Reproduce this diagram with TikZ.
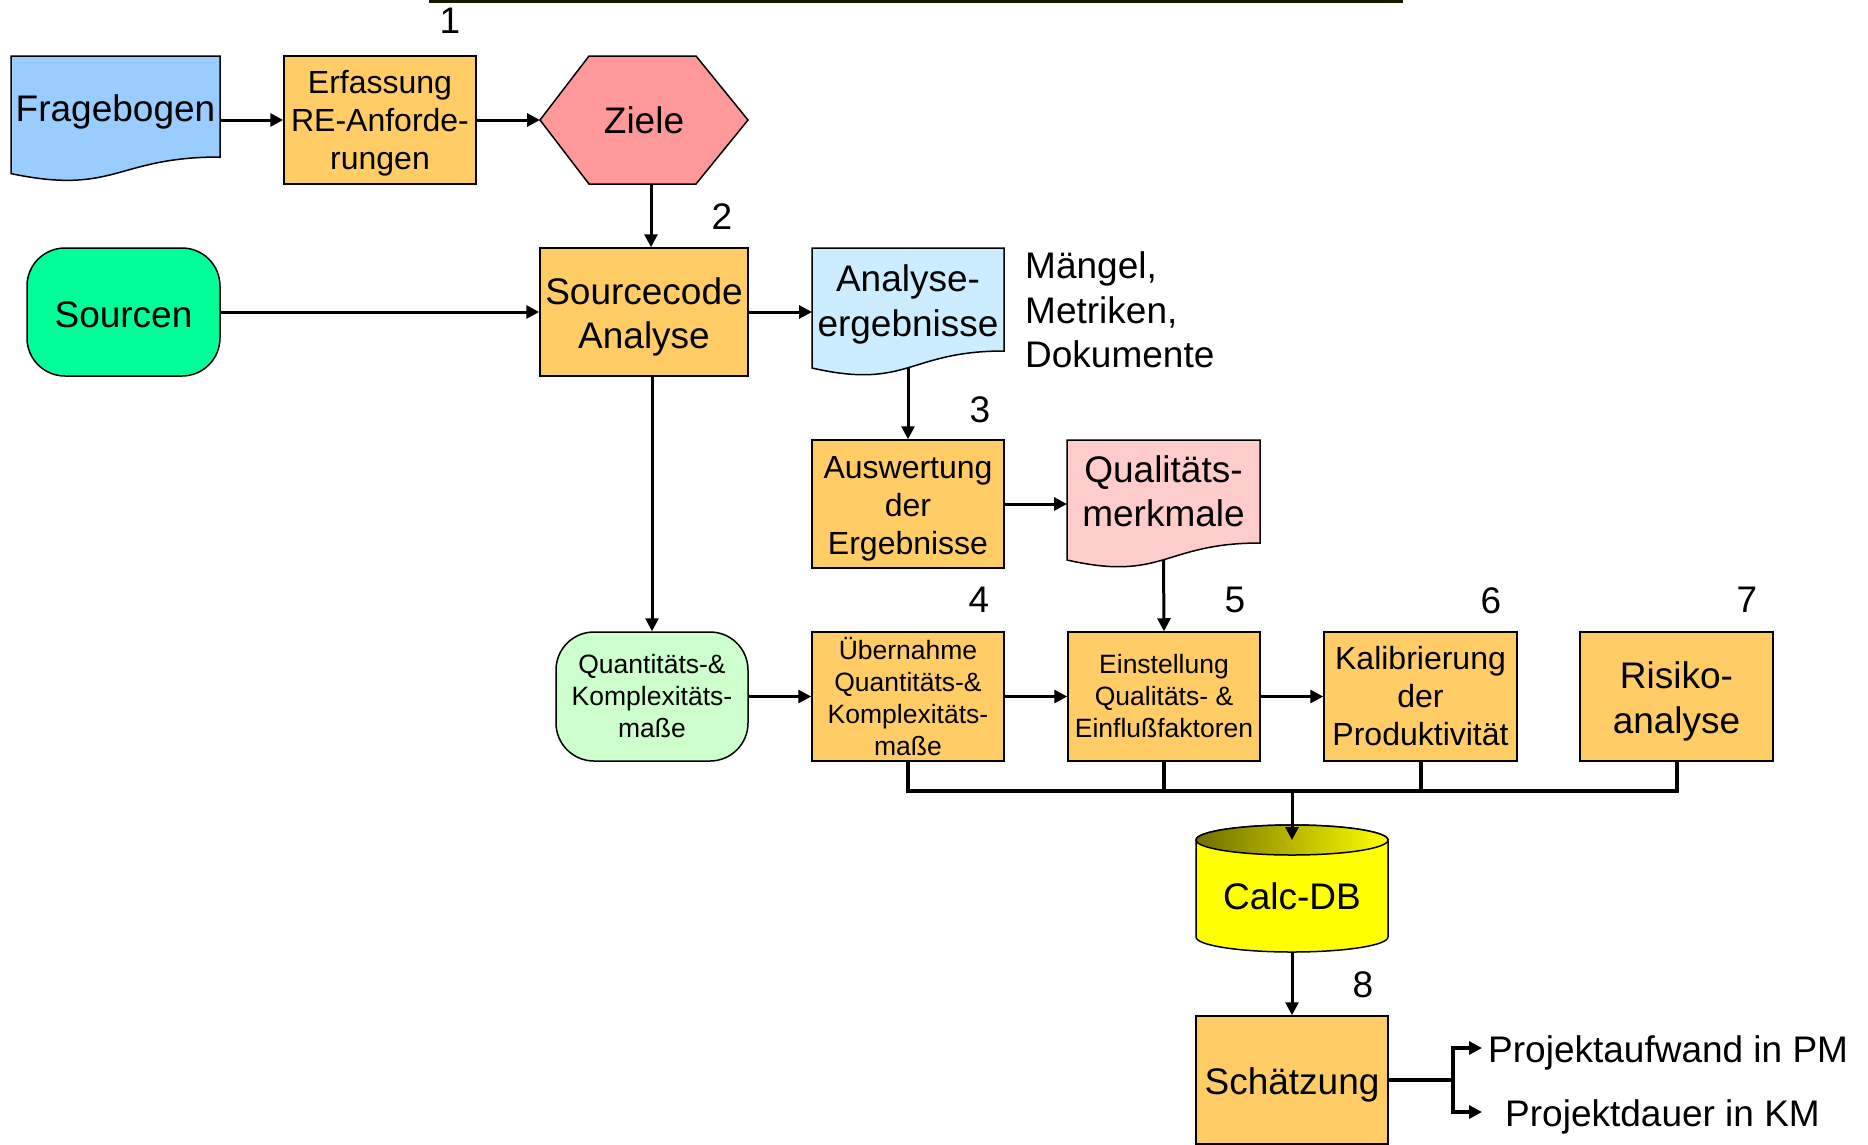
\documentclass[tikz,border=0pt]{standalone}
\usepackage{fontspec}
\setmainfont{Liberation Sans}
\usetikzlibrary{arrows.meta,backgrounds,calc}

\definecolor{docblue}{RGB}{153,204,255}
\definecolor{boxorange}{RGB}{255,204,102}
\definecolor{goalred}{RGB}{255,153,153}
\definecolor{srcgreen}{RGB}{0,255,153}
\definecolor{resblue}{RGB}{204,236,255}
\definecolor{qualpink}{RGB}{255,204,204}
\definecolor{qkgreen}{RGB}{204,255,204}
\definecolor{dbyellow}{RGB}{255,255,0}
\definecolor{dbdark}{RGB}{112,112,0}
\definecolor{rulecol}{RGB}{25,25,0}

\newcommand\bigtxt{\fontsize{37}{44.5}\selectfont}
\newcommand\midtxt{\fontsize{32}{38}\selectfont}
\newcommand\smalltxt{\fontsize{26.5}{32}\selectfont}
% invisible strut that lowers a centred text block a little
\newcommand\firstline[1]{\rule{0pt}{#1}}

% document symbol with wavy lower edge below the text area of node #1
\newcommand\docpath[4]{%
  \filldraw[outline, fill=#2] (#1.north west) -- (#1.north east) -- (#1.south east)
    .. controls (#1.south) and ([yshift=-#4]#1.south) .. ([yshift=-#3]#1.south west) -- cycle;}

\begin{document}
\begin{tikzpicture}[x=1pt, y=-1pt,
  outline/.style={draw=black, line width=1.5pt},
  stepbox/.style={outline, fill=boxorange, minimum width=192pt, minimum height=128pt,
    inner sep=0pt, align=center, font=\midtxt},
  roundbox/.style={outline, rounded corners=38pt, inner sep=0pt, align=center},
  docarea/.style={inner sep=0pt, outer sep=0pt, align=center},
  num/.style={inner sep=0pt, font=\bigtxt},
  arr/.style={line width=3pt, -{Triangle[length=13pt,width=13pt]}},
  bus/.style={line width=4pt, line join=miter}]

\useasboundingbox (0,0) rectangle (1868,1144);

% heading rule
\draw[line width=3pt, rulecol] (429,1) -- (1403,1);

% nodes
\node[docarea, minimum width=209pt, minimum height=101pt, font=\bigtxt] (frag) at (115.5,106.5) {\firstline{37pt}Fragebogen};
\node[stepbox] (erf) at (380,120) {\firstline{29.5pt}Erfassung\\RE-Anforde-\\rungen};
\node[docarea, minimum width=208pt, minimum height=128pt, font=\bigtxt] (ziel) at (644,120) {Ziele};
\node[roundbox, fill=srcgreen, minimum width=193pt, minimum height=128pt, font=\bigtxt] (src) at (123.5,312) {\firstline{31pt}Sourcen};
\node[stepbox, minimum width=208pt, font=\bigtxt] (sca) at (644,312) {\firstline{37pt}Sourcecode\\Analyse};
\node[docarea, minimum width=192pt, minimum height=103pt, font=\bigtxt] (ana) at (908,299.5) {\firstline{37pt}Analyse-\\ergebnisse};
\node[anchor=west, align=left, inner sep=0pt, font=\bigtxt] (mdk) at (1025,310) {Mängel,\\Metriken,\\Dokumente};
\node[stepbox] (ausw) at (908,504) {\firstline{31pt}Auswertung\\der\\Ergebnisse};
\node[docarea, minimum width=193pt, minimum height=103pt, font=\bigtxt] (qual) at (1163.5,491.5) {Qualitäts-\\merkmale};
\node[roundbox, fill=qkgreen, minimum width=192pt, minimum height=129pt, font=\smalltxt] (qk) at (652,696.5) {Quantitäts-\&\\Komplexitäts-\\maße};
\node[stepbox, minimum height=129pt, font=\smalltxt] (ueb) at (908,696.5) {Übernahme\\Quantitäts-\&\\Komplexitäts-\\maße};
\node[stepbox, minimum height=129pt, font=\smalltxt] (ein) at (1164,696.5) {Einstellung\\Qualitäts- \&\\Einflußfaktoren};
\node[stepbox, minimum width=193pt, minimum height=129pt] (kal) at (1420.5,696.5) {Kalibrierung\\der\\Produktivität};
\node[stepbox, minimum width=193pt, minimum height=129pt, font=\bigtxt] (risk) at (1676.5,696.5) {\firstline{37pt}Risiko-\\analyse};
\node[docarea, minimum width=192pt, minimum height=112pt, font=\bigtxt] (db) at (1292,896) {Calc-DB};
\node[stepbox, font=\bigtxt] (sch) at (1292,1080) {\firstline{37.5pt}Schätzung};
\node[anchor=west, inner sep=0pt, font=\bigtxt] (pm) at (1488,1048) {\firstline{37pt}Projektaufwand in PM};
\node[anchor=west, inner sep=0pt, font=\bigtxt] (km) at (1505,1112) {\firstline{37pt}Projektdauer in KM};

% step numbers
\node[num] (n1) at (450,21) {1};
\node[num] (n2) at (722,217) {2};
\node[num] (n3) at (980,410) {3};
\node[num] (n4) at (979,600) {4};
\node[num] (n5) at (1235,600) {5};
\node[num] (n6) at (1491,601) {6};
\node[num] (n7) at (1747,600) {7};
\node[num] (n8) at (1363,985) {8};

% connectors
\draw[arr] (erf.west -| frag.east) -- (erf.west);
\draw[arr] (erf.east) -- (ziel.west);
\draw[arr] ([xshift=7pt]ziel.south) -- ([xshift=7pt]sca.north);
\draw[arr] (src.east) -- (sca.west);
\draw[arr] (sca.east) -- (sca.east -| ana.west);
\draw[arr] ([yshift=-17pt]ana.south) -- (ausw.north);
\draw[arr] (ausw.east) -- (ausw.east -| qual.west);
\draw[arr] ([yshift=-17pt]qual.south) -- (ein.north);
\draw[arr] (sca.south -| qk.north) -- (qk.north);
\draw[arr] (qk.east) -- (ueb.west);
\draw[arr] (ueb.east) -- (ein.west);
\draw[arr] (ein.east) -- (kal.west);

\coordinate (busy) at (0,791);
\draw[bus] (ueb.south) -- (ueb.south |- busy) -- (risk.south |- busy) -- (risk.south);
\draw[bus] (ein.south) -- (ein.south |- busy);
\draw[bus] (kal.south) -- (kal.south |- busy);
\draw[arr] (db.north |- busy) -- (db.north);
\draw[arr] (db.south) -- (sch.north);

\coordinate (split) at ([xshift=64pt]sch.east);
\coordinate (tip) at ([xshift=-6pt]pm.west);
\draw[bus] (sch.east) -- (split);
\draw[arr, line width=4pt] (split) |- (tip);
\draw[arr, line width=4pt] (split) |- (tip |- km.west);

% shapes behind the texts
\begin{scope}[on background layer]
  \fill[white] (0,0) rectangle (1868,1144);
  \docpath{frag}{docblue}{16.6pt}{38.5pt}
  \docpath{ana}{resblue}{17pt}{39pt}
  \docpath{qual}{qualpink}{17pt}{39pt}
  % goal hexagon
  \filldraw[outline, fill=goalred] (ziel.west) -- ([xshift=49pt]ziel.north west)
    -- ([xshift=-52pt]ziel.north east) -- (ziel.east)
    -- ([xshift=-52pt]ziel.south east) -- ([xshift=49pt]ziel.south west) -- cycle;
  % database cylinder
  \filldraw[outline, fill=dbyellow] (db.north west) -- ([yshift=15pt]db.south west)
    arc[start angle=180, end angle=360, x radius=96pt, y radius=15pt]
    -- (db.north east)
    arc[start angle=0, end angle=180, x radius=96pt, y radius=15pt] -- cycle;
  \filldraw[outline, left color=dbdark, right color=dbyellow] (db.north)
    ellipse [x radius=96pt, y radius=15pt];
\end{scope}
\end{tikzpicture}
\end{document}
